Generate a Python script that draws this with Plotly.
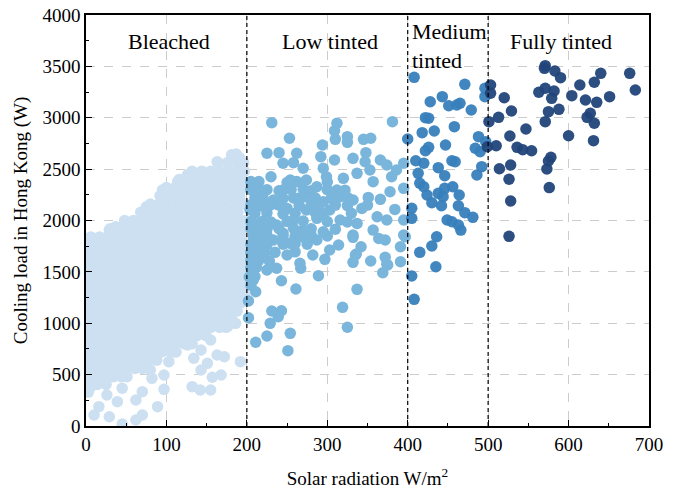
import plotly.graph_objects as go

# ---------------- data ----------------
group_names = ["Bleached", "Low tinted", "Medium tinted", "Fully tinted"]
group_colors = ["#cce0f1", "#7ab6db", "#377fbc", "#21457a"]
group_opacity = [1.0, 1.0, 0.95, 0.95]

# Bleached: dense core, written as rows of (cooling load, [solar radiation values])
bleached_rows = [
    (2640, [181]),
    (2610, [191]),
    (2565, [164, 176, 187, 196]),
    (2480, [132, 144, 155, 167, 178, 189, 197]),
    (2400, [116, 127, 138, 149, 160, 171, 182, 193]),
    (2320, [100, 111, 122, 133, 144, 155, 166, 177, 188, 197]),
    (2240, [92, 103, 114, 125, 136, 147, 158, 169, 180, 191]),
    (2160, [80, 91, 102, 113, 124, 135, 146, 157, 168, 179, 190, 198]),
    (2080, [68, 79, 90, 101, 112, 123, 134, 145, 156, 167, 178, 189]),
    (2000, [48, 59, 70, 81, 92, 103, 114, 125, 136, 147, 158, 169, 180, 191, 198]),
    (1920, [30, 41, 52, 63, 74, 85, 96, 107, 118, 129, 140, 151, 162, 173, 184, 195]),
    (1840, [6, 17, 28, 39, 50, 61, 72, 83, 94, 105, 116, 127, 138, 149, 160, 171, 182, 193]),
    (1760, [2, 12, 23, 34, 45, 56, 67, 78, 89, 100, 111, 122, 133, 144, 155, 166, 177, 188, 198]),
    (1680, [6, 17, 28, 39, 50, 61, 72, 83, 94, 105, 116, 127, 138, 149, 160, 171, 182, 193]),
    (1600, [2, 12, 23, 34, 45, 56, 67, 78, 89, 100, 111, 122, 133, 144, 155, 166, 177, 188, 198]),
    (1520, [6, 17, 28, 39, 50, 61, 72, 83, 94, 105, 116, 127, 138, 149, 160, 171, 182, 193]),
    (1440, [2, 12, 23, 34, 45, 56, 67, 78, 89, 100, 111, 122, 133, 144, 155, 166, 177, 188, 198]),
    (1360, [6, 17, 28, 39, 50, 61, 72, 83, 94, 105, 116, 127, 138, 149, 160, 171, 182, 193]),
    (1280, [2, 12, 23, 34, 45, 56, 67, 78, 89, 100, 111, 122, 133, 144, 155, 166, 177, 188, 197]),
    (1200, [6, 17, 28, 39, 50, 61, 72, 83, 94, 105, 116, 127, 138, 149, 160, 171, 182, 193]),
    (1120, [2, 12, 23, 34, 45, 56, 67, 78, 89, 100, 111, 122, 133, 144, 155, 166, 177, 188]),
    (1040, [6, 17, 28, 39, 50, 61, 72, 83, 94, 105, 116, 127, 138, 149, 160, 171, 181]),
    (960, [2, 12, 23, 34, 45, 56, 67, 78, 89, 100, 111, 122, 133, 144, 155, 166, 174]),
    (880, [6, 17, 28, 39, 50, 61, 72, 83, 94, 105, 116, 127, 138, 149]),
    (800, [2, 12, 23, 34, 45, 56, 67, 78, 89, 100, 111, 122, 132]),
    (720, [6, 17, 28, 39, 50, 61, 72, 83, 94, 105, 112]),
    (640, [2, 12, 23, 34, 45, 56, 67, 78, 88]),
    (560, [6, 17, 28, 39, 50, 61, 70]),
    (480, [2, 12, 23, 34, 44]),
    (405, [4, 14, 25]),
    (330, [3]),
]
# Bleached: edge points and outliers (solar radiation, cooling load)
bleached_edge = [
    (187, 2647), (180, 2582), (163, 2572), (192, 2540), (126, 2443), (114, 2378),
    (95, 2297), (75, 2134), (97, 2151), (56, 1956), (37, 1940), (29, 1907),
    (5, 1827), (20, 1810), (76, 1924), (138, 2426), (176, 2475), (155, 2459),
    (45, 19), (29, 90), (10, 107), (16, 188), (62, 58), (70, 107), (89, 188),
    (26, 302), (39, 237), (62, 253), (70, 334), (45, 367), (97, 357), (6, 383),
    (132, 383), (142, 350), (155, 350), (82, 464), (97, 496), (143, 545),
    (157, 474), (168, 496), (192, 626), (134, 659), (151, 610), (163, 691),
    (172, 674), (103, 626), (109, 723), (143, 740), (176, 966), (186, 999),
    (155, 837), (126, 788), (80, 545), (51, 480),
]

low_pts = [
    (231, 2952), (312, 2946), (381, 2962), (309, 2874), (253, 2800), (325, 2816),
    (310, 2790), (325, 2761), (345, 2790), (354, 2800), (294, 2735), (225, 2654),
    (240, 2660), (262, 2654), (348, 2660), (292, 2621), (309, 2589), (332, 2605),
    (245, 2557), (258, 2563), (270, 2508), (347, 2572), (366, 2589), (374, 2540),
    (395, 2557), (386, 2491), (380, 2426), (230, 2426), (353, 2491), (295, 2508),
    (299, 2426), (320, 2410), (337, 2459), (357, 2378), (254, 2394), (274, 2394),
    (206, 2329), (216, 2297), (245, 2297), (287, 2329), (312, 2297), (378, 2280),
    (395, 2313), (351, 2225), (366, 2206), (233, 2200), (264, 2216), (295, 2183),
    (316, 2232), (332, 2200), (204, 2102), (221, 2134), (250, 2118), (274, 2102),
    (303, 2102), (343, 2118), (384, 2108), (362, 2037), (374, 2005), (216, 1972),
    (237, 1956), (258, 2005), (287, 2021), (316, 2005), (337, 1972), (395, 2005),
    (245, 1875), (270, 1907), (295, 1891), (332, 1859), (357, 1907), (395, 1859),
    (208, 1842), (233, 1810), (254, 1778), (268, 1842), (287, 1810), (303, 1713),
    (314, 1762), (332, 1836), (364, 1826), (372, 1810), (391, 1745), (397, 1842),
    (342, 1745), (335, 1664), (332, 1593), (354, 1606), (372, 1642), (374, 1574),
    (391, 1599), (369, 1492), (282, 1664), (297, 1622), (266, 1583), (267, 1535),
    (250, 1664), (225, 1518), (237, 1535), (208, 1583), (208, 1421), (211, 1307),
    (243, 1414), (261, 1333), (289, 1463), (337, 1330), (202, 1217), (202, 1054),
    (231, 1119), (243, 1122), (239, 1064), (229, 999), (225, 876), (211, 815),
    (254, 902), (251, 733), (319, 1155), (325, 961), (375, 1567), (336, 1674),
    # dense part of the cluster
    (205, 2380), (215, 2380), (250, 2370), (262, 2380), (300, 2375),
    (205, 2300), (225, 2300), (240, 2290), (255, 2300), (270, 2305), (280, 2290), (300, 2300), (322, 2295),
    (210, 2220), (220, 2225), (245, 2215), (258, 2220), (272, 2230), (285, 2220), (305, 2215), (325, 2225),
    (205, 2150), (215, 2145), (230, 2155), (240, 2150), (265, 2145), (280, 2150), (290, 2155), (310, 2150), (325, 2145), (350, 2150),
    (210, 2070), (225, 2075), (245, 2065), (260, 2070), (285, 2075), (295, 2065), (330, 2070),
    (205, 1990), (220, 1995), (230, 1985), (250, 1990), (270, 1995), (300, 1990), (325, 1985),
    (205, 1920), (215, 1925), (225, 1915), (240, 1920), (258, 1925), (280, 1920), (310, 1915),
    (215, 1850), (225, 1855), (245, 1850), (260, 1845), (280, 1855), (300, 1850),
    (205, 1770), (215, 1775), (225, 1765), (245, 1770), (260, 1775), (275, 1770),
    (205, 1690), (212, 1695), (222, 1685), (235, 1690), (260, 1695),
    (205, 1610), (215, 1615), (228, 1605),
    (205, 1540), (212, 1545), (203, 1450), (210, 1455), (205, 1370),
]

medium_pts = [
    (408, 3393), (471, 3325), (443, 3205), (428, 3156), (451, 3117), (465, 3141),
    (461, 3124), (479, 3075), (496, 3287), (496, 3205), (422, 3001), (426, 2995),
    (458, 2913), (418, 2855), (433, 2871), (400, 2793), (426, 2712), (422, 2679),
    (447, 2735), (484, 2703), (490, 2669), (497, 2767), (410, 2582), (420, 2557),
    (438, 2514), (455, 2582), (459, 2572), (446, 2436), (413, 2459), (492, 2524),
    (486, 2443), (415, 2362), (420, 2329), (424, 2248), (430, 2173), (438, 2264),
    (444, 2232), (446, 2313), (456, 2329), (464, 2248), (463, 2144), (442, 2144),
    (471, 2076), (481, 2031), (449, 2005), (455, 1988), (466, 1907), (463, 1956),
    (405, 2119), (405, 2021), (436, 1842), (430, 1752), (415, 1690), (435, 1550),
    (405, 1460), (408, 1233), (488, 2816),
]

fully_pts = [
    (571, 3507), (570, 3481), (583, 3455), (590, 3390), (640, 3432), (676, 3432),
    (683, 3270), (614, 3319), (632, 3345), (651, 3205), (635, 3150), (621, 3173),
    (604, 3215), (582, 3260), (571, 3287), (563, 3248), (579, 3189), (588, 3082),
    (575, 3059), (571, 2962), (627, 3043), (623, 3004), (632, 2946), (600, 2825),
    (631, 2777), (503, 3319), (503, 3238), (520, 3195), (529, 3066), (513, 3004),
    (501, 2962), (547, 2890), (527, 2822), (510, 2728), (499, 2718), (536, 2712),
    (543, 2689), (554, 2679), (578, 2615), (575, 2579), (573, 2501), (528, 2540),
    (514, 2504), (526, 2401), (576, 2320), (528, 2190), (526, 1846),
]

x_range = [0, 700]
y_range = [0, 4000]
region_bounds = [200, 400, 500]
x_title = "Solar radiation W/m<sup>2</sup>"
y_title = "Cooling load in Hong Kong (W)"

# ---------------- assemble ----------------
bleached_pts = [(x, y) for (y, xs) in bleached_rows for x in xs] + bleached_edge
groups = [bleached_pts, low_pts, medium_pts, fully_pts]

FONT = "Liberation Serif"
fig = go.Figure()
for name, color, op, pts in zip(group_names, group_colors, group_opacity, groups):
    fig.add_trace(go.Scatter(
        x=[p[0] for p in pts], y=[p[1] for p in pts], mode="markers", name=name,
        marker=dict(size=11.5, color=color, opacity=op, line=dict(width=0)),
        showlegend=False, hoverinfo="x+y",
    ))

for b in region_bounds:
    fig.add_shape(type="line", xref="x", yref="y", x0=b, x1=b, y0=y_range[0], y1=y_range[1],
                  line=dict(color="black", width=1.2, dash="4px,3px"), layer="above")

label_font = dict(family=FONT, size=22, color="black")
fig.add_annotation(x=103, y=3745, text="Bleached", showarrow=False, font=label_font)
fig.add_annotation(x=303, y=3745, text="Low tinted", showarrow=False, font=label_font)
fig.add_annotation(x=403, y=3700, text="Medium<br>tinted", showarrow=False, font=label_font,
                   xanchor="left", align="left")
fig.add_annotation(x=590, y=3745, text="Fully tinted", showarrow=False, font=label_font)

axis_common = dict(
    showline=True, linecolor="black", linewidth=1.5, mirror=True,
    ticks="inside", ticklen=6, tickwidth=1.2, tickcolor="black",
    showgrid=True, gridcolor="#cccccc", gridwidth=1, griddash="dash",
    zeroline=False, automargin=False,
    tickfont=dict(family=FONT, size=19, color="black"),
)
fig.update_xaxes(range=x_range, dtick=100, tick0=0,
                 minor=dict(ticks="inside", ticklen=3, dtick=50, tickcolor="black", showgrid=False),
                 title=dict(text=x_title, font=dict(family=FONT, size=19, color="black"), standoff=18),
                 **axis_common)
fig.update_yaxes(range=y_range, dtick=500, tick0=0,
                 minor=dict(ticks="inside", ticklen=3, dtick=250, tickcolor="black", showgrid=False),
                 title=dict(text=y_title, font=dict(family=FONT, size=19, color="black"), standoff=10),
                 **axis_common)

fig.update_layout(
    width=678, height=489,
    margin=dict(l=86, r=29, t=15, b=63),
    plot_bgcolor="white", paper_bgcolor="white",
    font=dict(family=FONT, color="black"),
)

fig.write_html("out.html")
